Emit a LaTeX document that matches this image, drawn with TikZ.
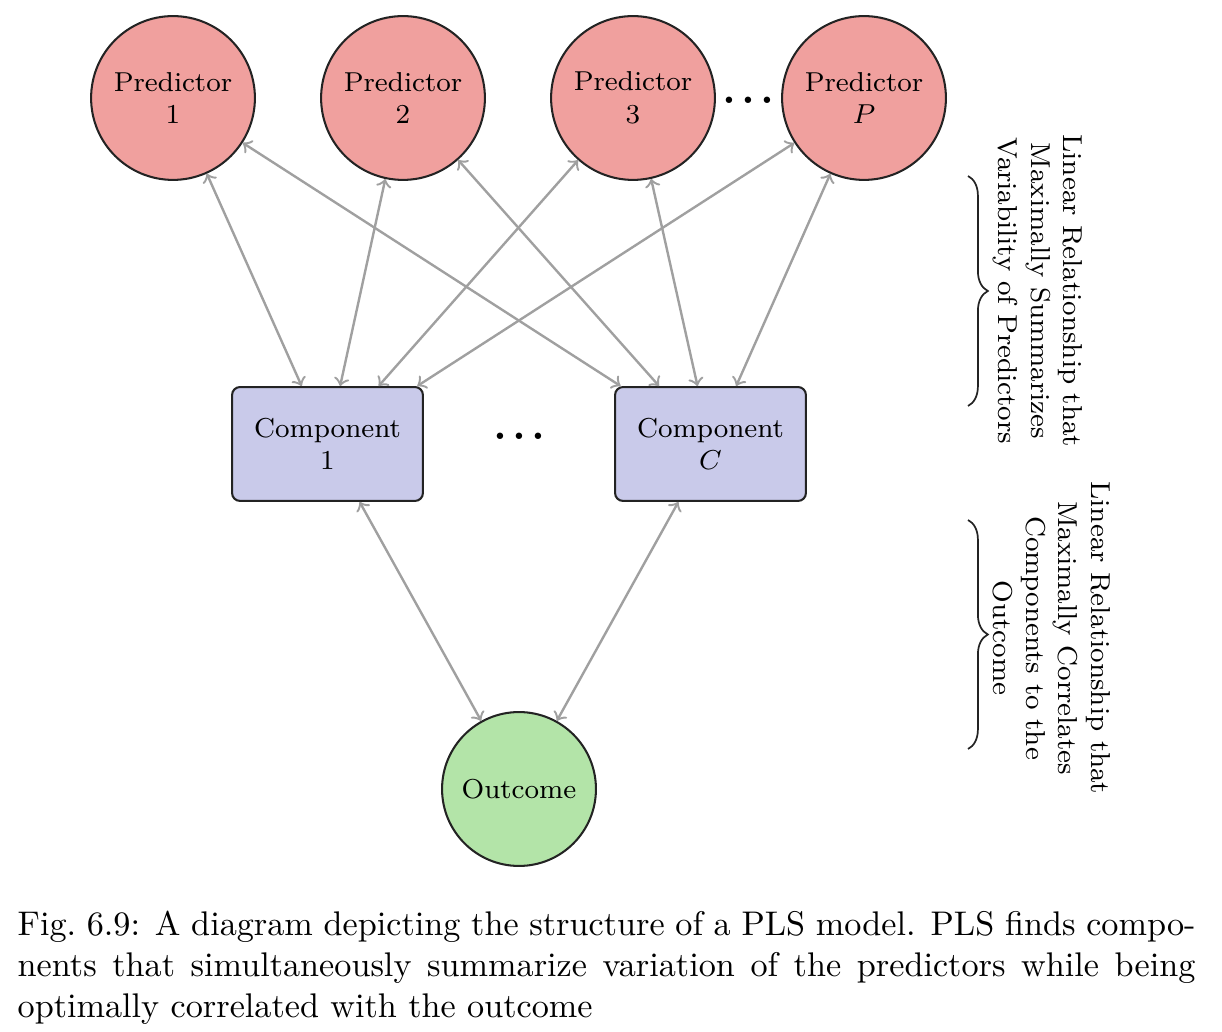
\documentclass[tikz,border=0pt]{standalone}
\usetikzlibrary{decorations.pathreplacing}
\definecolor{predfill}{RGB}{240,160,158}
\definecolor{compfill}{RGB}{201,202,234}
\definecolor{outfill}{RGB}{179,228,168}
\definecolor{arrowgray}{RGB}{160,160,160}
\definecolor{bordercol}{RGB}{35,35,35}
\begin{document}
\begin{tikzpicture}[x=0.2924pt,y=-0.2924pt,
  pred/.style={circle, draw=bordercol, fill=predfill, line width=0.6pt, minimum size=47.9pt, inner sep=0pt, align=center, font=\footnotesize},
  comp/.style={rectangle, rounded corners=2.3pt, draw=bordercol, fill=compfill, line width=0.6pt, minimum width=55.8pt, minimum height=33.3pt, inner sep=0pt, align=center, font=\footnotesize},
  outc/.style={circle, draw=bordercol, fill=outfill, line width=0.6pt, minimum size=45pt, inner sep=0pt, align=center, font=\footnotesize},
  link/.style={<->, draw=arrowgray, line width=0.7pt},
  dotsnode/.style={inner sep=0pt, font=\fontsize{13}{15}\selectfont\bfseries},
  bracepath/.style={decorate, decoration={brace, amplitude=5.8pt}, draw=bordercol, line width=0.5pt},
  sidelabel/.style={rotate=-90, anchor=south, align=center, font=\footnotesize, inner sep=1pt},
]
\useasboundingbox (0,0) rectangle (1222,1032);

\node[pred] (p1) at (173,98) {Predictor\\1};
\node[pred] (p2) at (403,98) {Predictor\\2};
\node[pred] (p3) at (633,98) {Predictor\\3};
\node[pred] (pP) at (864,98) {Predictor\\$P$};
\node[dotsnode] (pdots) at (748,100) {.\kern1.5pt.\kern1.5pt.};

\node[comp] (c1) at (327.5,444) {Component\\1};
\node[comp] (cC) at (710.5,444) {Component\\$C$};
\node[dotsnode] (cdots) at (519,436) {.\kern1.5pt.\kern1.5pt.};

\node[outc] (o) at (519,789) {Outcome};

\foreach \p in {p1,p2,p3,pP}{
  \draw[link] (\p) -- (c1);
  \draw[link] (\p) -- (cC);
}
\draw[link] (c1) -- (o);
\draw[link] (cC) -- (o);

\coordinate (b1t) at (968,176);
\coordinate (b1b) at (968,406);
\coordinate (b2t) at (968,520);
\coordinate (b2b) at (968,749);
\draw[bracepath] (b1t) -- (b1b);
\draw[bracepath] (b2t) -- (b2b);

\node[sidelabel] (l1) at (989,291) {Linear Relationship that\\Maximally Summarizes\\Variability of Predictors};
\node[sidelabel] (l2) at (989,638) {Linear Relationship that\\Maximally Correlates\\Components to the\\Outcome};

\node[anchor=north west, inner sep=0pt, text width=344.4pt, align=justify, font=\normalsize] (cap) at (17,910)
 {\noindent Fig.~6.9: A diagram depicting the structure of a PLS model. PLS finds compo-\linebreak nents that simultaneously summarize variation of the predictors while being\linebreak optimally correlated with the outcome};
\end{tikzpicture}
\end{document}
